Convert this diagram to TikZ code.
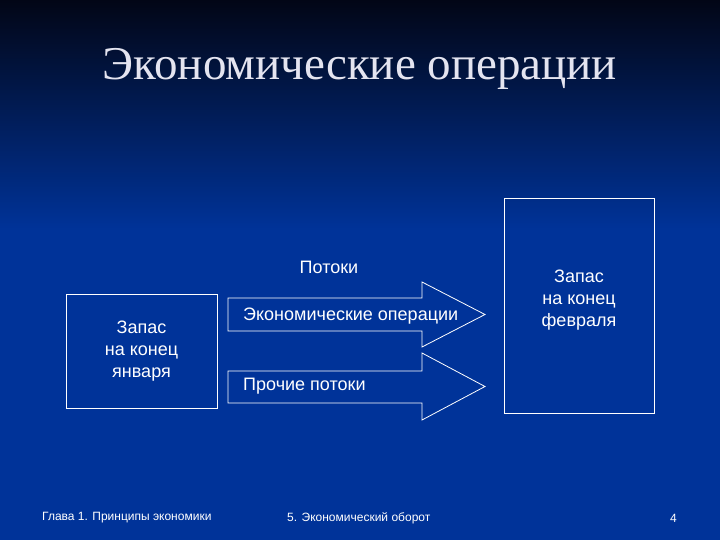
\documentclass[tikz,border=0pt]{standalone}
\usepackage{fontspec}
\setmainfont{Liberation Sans}
\newfontfamily\titlefont{Liberation Serif}
\usetikzlibrary{positioning}
\definecolor{slideblue}{RGB}{0,51,153}
\definecolor{slidedark}{RGB}{2,6,22}
\definecolor{titlegray}{RGB}{228,228,240}
\tikzset{
  stock/.style    ={draw=white, line width=0.8pt, inner sep=0pt},
  stocktext/.style={align=center, text=white, inner sep=0pt,
                    font=\fontsize{18}{22}\selectfont},
  flowarrow/.style={draw=white, line width=0.8pt, line join=miter},
  flowtext/.style ={anchor=west, text=white, inner sep=0pt,
                    font=\fontsize{18}{22}\selectfont},
  foot/.style     ={anchor=west, text=white, inner sep=0pt,
                    font=\fontsize{12}{14}\selectfont},
}

\begin{document}
\begin{tikzpicture}[x=1pt, y=-1pt]
  % background
  \useasboundingbox (0,0) rectangle (720,540);
  \fill[slideblue] (0,0) rectangle (720,540);
  \shade[top color=slidedark, bottom color=slideblue] (0,0) rectangle (720,230);

  \node[font=\titlefont\fontsize{47}{52}\selectfont, text=titlegray] (title) at (360,69) {Экономические операции};

  % stocks
  \node[stock, minimum width=151pt, minimum height=114pt] (jan) at (141.5,351) {};
  \node[stocktext] (jantext) at (jan.center) {Запас\\на конец\\января};
  \node[stock, minimum width=150pt, minimum height=215pt] (feb) at (579,305.5) {};
  \node[stocktext] (febtext) at ([yshift=5pt]feb.center) {Запас\\на конец\\февраля};

  % flows
  \draw[flowarrow] (228,298) -- (422,298) -- (422,282) -- (485,314.5)
                   -- (422,347) -- (422,331) -- (228,331) -- cycle;
  \draw[flowarrow] (228,371) -- (422,371) -- (422,353) -- (485,386.5)
                   -- (422,420) -- (422,403) -- (228,403) -- cycle;
  \node[flowtext] (ops)   at (243,316) {Экономические операции};
  \node[flowtext] (other) at (243,386) {Прочие потоки};
  \node[text=white, inner sep=0pt, font=\fontsize{18}{22}\selectfont] (flows) at (329,267) {Потоки};

  % footer
  \node[foot] (chapter) at (42,518)  {Глава 1. Принципы экономики};
  \node[foot] (section) at (287,518) {5. Экономический оборот};
  \node[foot] (page)    at (670,518) {4};
\end{tikzpicture}
\end{document}
